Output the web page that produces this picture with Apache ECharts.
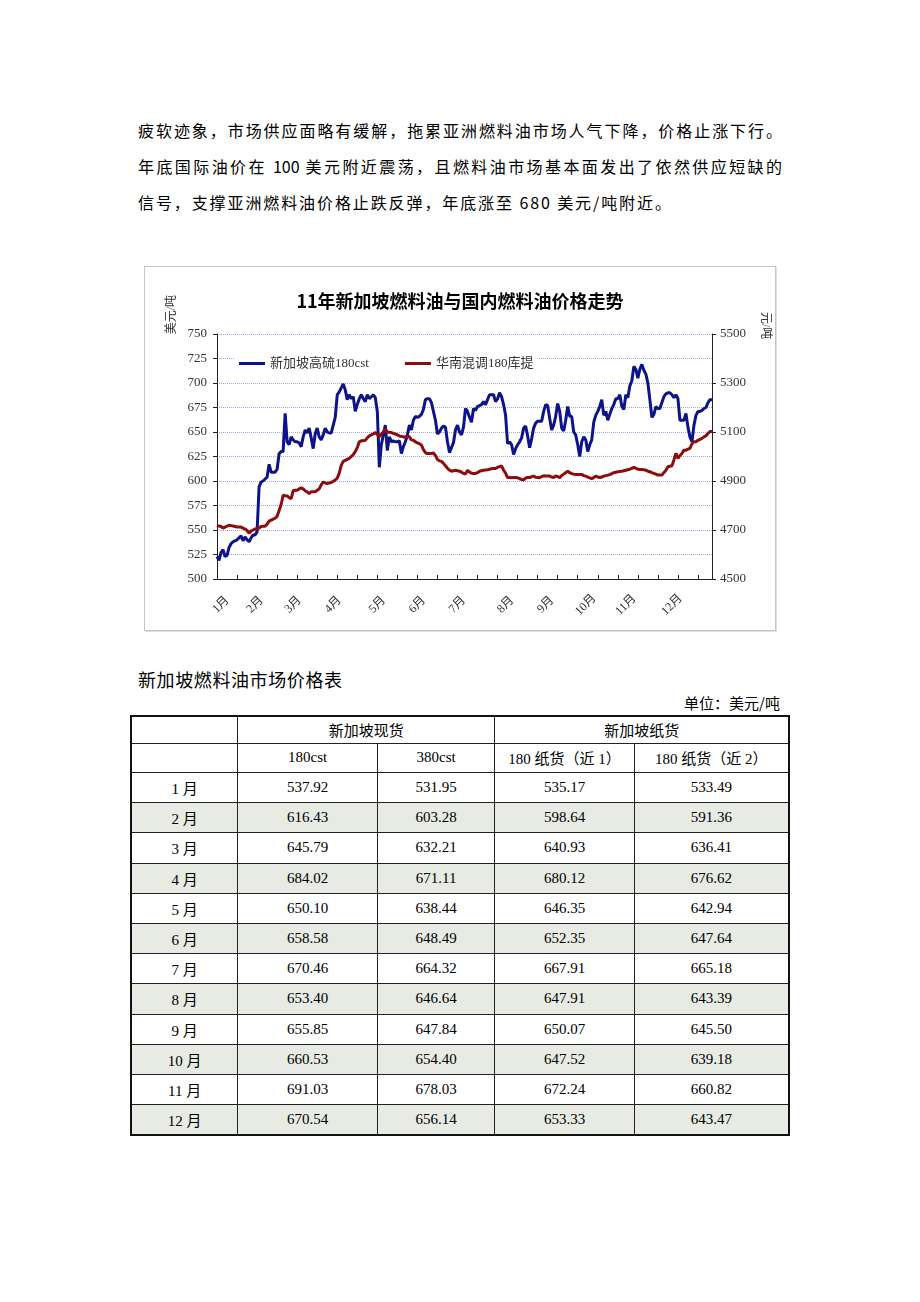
<!DOCTYPE html>
<html>
<head>
<meta charset="utf-8">
<script src="https://cdn.jsdelivr.net/npm/echarts@6/dist/echarts.min.js"></script>
<style>
html,body{margin:0;padding:0;background:#fff;}
body{width:920px;height:1302px;position:relative;font-family:'Noto Sans CJK SC',sans-serif;color:#000;}
.para{position:absolute;left:138px;width:644px;font-size:16px;letter-spacing:1.9px;line-height:20px;white-space:nowrap;}
.just{text-align:justify;text-align-last:justify;letter-spacing:0;}
#chart{position:absolute;left:144px;top:266px;width:630px;height:363px;border:1px solid #c4c4c4;box-shadow:1px 1px 0 #e0e0e0;}
#ttl{position:absolute;left:138px;top:666px;font-size:18px;letter-spacing:0.6px;}
#unit{position:absolute;right:140px;top:692px;font-size:15px;}
table{position:absolute;left:130px;top:715px;width:660px;border-collapse:collapse;border:2px solid #111;font-family:'Liberation Serif','Noto Sans CJK SC',serif;font-size:15px;}
td{border:1.5px solid #222;text-align:center;height:29.2px;padding:0;}
tr.h1 td{height:25.5px;}
tr.h2 td{height:28.5px;}
tr.s td{background:#e7ebe3;}
</style>
</head>
<body>
<div class="para just" style="top:120px;">疲软迹象，市场供应面略有缓解，拖累亚洲燃料油市场人气下降，价格止涨下行。</div>
<div class="para just" style="top:156px;">年底国际油价在 100 美元附近震荡，且燃料油市场基本面发出了依然供应短缺的</div>
<div class="para" style="top:192px;">信号，支撑亚洲燃料油价格止跌反弹，年底涨至 680 美元/吨附近。</div>
<div id="chart"></div>
<div id="ttl">新加坡燃料油市场价格表</div>
<div id="unit">单位：美元/吨</div>
<table id="tbl"></table>
<script>
// ---------------- chart data ----------------
var chartTitle = '11年新加坡燃料油与国内燃料油价格走势';
var seriesNames = ['新加坡高硫180cst', '华南混调180库提'];
var leftAxisName = '美元/吨';
var rightAxisName = '元/吨';
var monthLabels = ['1月','2月','3月','4月','5月','6月','7月','8月','9月','10月','11月','12月'];
var monthLabelIndex = [2, 19, 38, 58, 80, 100, 120, 144, 164, 184, 204, 227];
var pointCount = 248;
// 新加坡高硫180cst (美元/吨), daily
var sgp180 = [
523,519,527,530,523,524,532,536,538,539,540,542,544,539,543,540,538,542,545,545,
548,594,599,600,602,604,617,609,609,609,612,628,630,630,669,640,637,645,642,640,
640,639,635,645,652,649,654,644,633,648,654,645,642,647,654,650,649,649,657,665,
688,691,695,699,693,683,688,684,686,671,678,684,688,684,681,688,684,686,688,685,
671,614,637,647,657,631,645,640,641,640,640,641,628,635,640,647,657,652,662,666,
665,666,668,673,683,684,684,680,671,662,648,650,654,656,655,640,629,634,639,652,
657,650,647,655,674,671,665,660,674,672,676,677,678,681,678,683,688,688,688,681,
684,690,686,678,667,638,640,637,627,633,637,640,644,654,656,646,634,643,654,659,
661,661,661,671,678,677,664,652,657,666,679,671,654,651,662,676,666,666,650,647,
637,625,640,645,642,630,637,642,660,667,671,676,683,667,671,662,668,674,678,684,
684,688,676,673,688,685,697,702,717,714,705,714,719,713,709,700,683,665,668,676,
674,674,680,686,689,690,690,688,685,688,684,662,662,662,669,655,645,640,657,667,
671,671,672,674,675,680,683,683
];
// 华南混调180库提 (元/吨), daily
var scBlend180 = [
4719,4716,4714,4708,4712,4716,4719,4718,4716,4714,4712,4712,4712,4708,4704,4698,4687,4696,4700,4704,
4706,4708,4714,4715,4715,4724,4736,4740,4744,4748,4756,4780,4804,4842,4840,4839,4832,4828,4860,4862,
4862,4868,4872,4868,4860,4856,4848,4856,4856,4856,4862,4868,4884,4896,4892,4890,4892,4894,4899,4904,
4912,4932,4964,4980,4984,4988,4992,5000,5008,5020,5036,5060,5064,5064,5066,5076,5084,5088,5092,5098,
5090,5080,5092,5100,5110,5100,5099,5098,5094,5092,5088,5084,5082,5080,5080,5084,5080,5068,5066,5060,
5056,5052,5047,5028,5016,5012,5012,5012,5014,5004,4988,4982,4980,4972,4962,4952,4944,4940,4942,4944,
4942,4940,4936,4931,4928,4944,4936,4932,4931,4931,4934,4940,4942,4944,4945,4946,4948,4950,4951,4951,
4956,4958,4962,4944,4932,4914,4914,4913,4914,4914,4913,4910,4906,4904,4912,4914,4914,4918,4920,4915,
4914,4913,4918,4921,4920,4920,4920,4916,4914,4921,4918,4913,4922,4928,4934,4940,4934,4930,4928,4927,
4927,4927,4927,4922,4920,4916,4913,4910,4914,4920,4916,4914,4916,4920,4922,4924,4926,4930,4934,4936,
4938,4939,4940,4942,4944,4946,4948,4952,4955,4952,4948,4947,4947,4946,4944,4940,4938,4934,4931,4928,
4924,4924,4924,4934,4944,4958,4960,4962,4986,5013,4992,5004,5012,5026,5026,5030,5033,5052,5060,5060,
5066,5070,5074,5080,5085,5094,5102,5102
];
var leftTicks = {min: 500, max: 750, interval: 25};
var rightTicks = {min: 4500, max: 5500, interval: 200};

// ---------------- table data ----------------
var tableGroups = ['新加坡现货', '新加坡纸货'];
var tableCols = ['180cst', '380cst', '180 纸货（近 1）', '180 纸货（近 2）'];
var tableMonths = ['1 月','2 月','3 月','4 月','5 月','6 月','7 月','8 月','9 月','10 月','11 月','12 月'];
var spot180 = ['537.92','616.43','645.79','684.02','650.10','658.58','670.46','653.40','655.85','660.53','691.03','670.54'];
var spot380 = ['531.95','603.28','632.21','671.11','638.44','648.49','664.32','646.64','647.84','654.40','678.03','656.14'];
var paper1 = ['535.17','598.64','640.93','680.12','646.35','652.35','667.91','647.91','650.07','647.52','672.24','653.33'];
var paper2 = ['533.49','591.36','636.41','676.62','642.94','647.64','665.18','643.39','645.50','639.18','660.82','643.47'];

// build table
(function(){
  var t = document.getElementById('tbl');
  var h = '<tr class="h1"><td style="width:106px"></td><td colspan="2">' + tableGroups[0] + '</td><td colspan="2">' + tableGroups[1] + '</td></tr>';
  h += '<tr class="h2"><td></td>';
  var w = [139, 117, 139, 154];
  for (var i = 0; i < tableCols.length; i++) h += '<td style="width:' + w[i] + 'px">' + tableCols[i] + '</td>';
  h += '</tr>';
  for (var r = 0; r < tableMonths.length; r++) {
    h += '<tr' + (r % 2 === 1 ? ' class="s"' : '') + '><td>' + tableMonths[r] + '</td><td>' + spot180[r] + '</td><td>' + spot380[r] + '</td><td>' + paper1[r] + '</td><td>' + paper2[r] + '</td></tr>';
  }
  t.innerHTML = h;
})();

// build categories
var categories = [];
for (var i = 0; i < pointCount; i++) categories.push('');
for (var m = 0; m < monthLabels.length; m++) categories[monthLabelIndex[m]] = monthLabels[m];

var numFont = "'Liberation Serif','Noto Sans CJK SC',serif";
var chart = echarts.init(document.getElementById('chart'));
chart.setOption({
  animation: false,
  backgroundColor: '#fff',
  title: {
    text: chartTitle, left: 'center', top: 20,
    textStyle: {fontSize: 18, fontWeight: 'bold', color: '#000', fontFamily: "'Noto Sans CJK SC',sans-serif"}
  },
  graphic: [
    {type: 'text', left: 21, top: 28, rotation: Math.PI / 2,
     style: {text: leftAxisName, fontSize: 12, fill: '#333', fontFamily: numFont}},
    {type: 'text', left: 614, top: 45, rotation: -Math.PI / 2,
     style: {text: rightAxisName, fontSize: 12, fill: '#333', fontFamily: numFont}}
  ],
  legend: {
    data: seriesNames, left: 90, top: 84, icon: 'rect', itemWidth: 26, itemHeight: 3, itemGap: 36,
    backgroundColor: '#fff', padding: [6, 4],
    textStyle: {fontSize: 13, color: '#333', fontFamily: numFont}
  },
  grid: {left: 72, right: 63, top: 67, bottom: 51},
  xAxis: {
    type: 'category', data: categories, boundaryGap: false,
    axisLine: {lineStyle: {color: '#222', width: 1}},
    axisTick: {inside: true, length: 4, interval: function (i) { return i % 10 === 0; }, lineStyle: {color: '#222'}},
    axisLabel: {interval: 0, rotate: 45, align: 'center', verticalAlign: 'middle', margin: 26,
                fontSize: 12, color: '#333', fontFamily: numFont}
  },
  yAxis: [
    {type: 'value', min: leftTicks.min, max: leftTicks.max, interval: leftTicks.interval,
     axisLine: {show: true, lineStyle: {color: '#222'}},
     axisTick: {show: true, length: 4, lineStyle: {color: '#222'}},
     axisLabel: {fontSize: 13, color: '#333', margin: 10, fontFamily: numFont,
                 formatter: function (v) { return String(v); }},
     splitLine: {show: true, lineStyle: {color: '#9ea7ee', type: 'dotted', width: 1}}},
    {type: 'value', min: rightTicks.min, max: rightTicks.max, interval: rightTicks.interval,
     axisLine: {show: true, lineStyle: {color: '#222'}},
     axisTick: {show: true, length: 4, lineStyle: {color: '#222'}},
     axisLabel: {fontSize: 13, color: '#333', margin: 8, fontFamily: numFont,
                 formatter: function (v) { return String(v); }},
     splitLine: {show: false}}
  ],
  series: [
    {name: seriesNames[0], type: 'line', data: sgp180, yAxisIndex: 0, symbol: 'none',
     lineStyle: {color: '#0d1388', width: 3}, itemStyle: {color: '#0d1388'}},
    {name: seriesNames[1], type: 'line', data: scBlend180, yAxisIndex: 1, symbol: 'none',
     lineStyle: {color: '#8e0c0c', width: 3}, itemStyle: {color: '#8e0c0c'}}
  ]
});
</script>
</body>
</html>
